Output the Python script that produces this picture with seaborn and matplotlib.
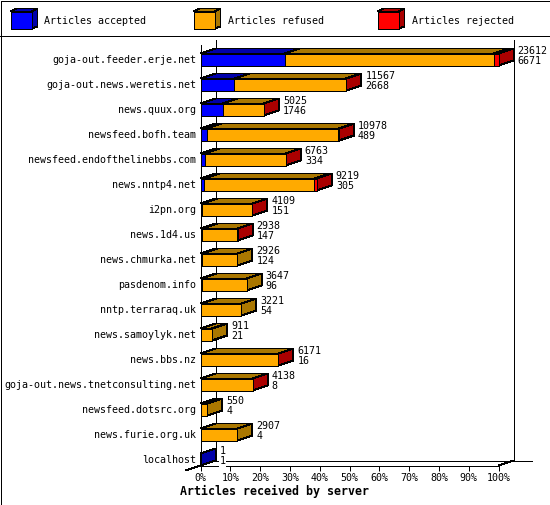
import matplotlib
matplotlib.use("Agg")
import matplotlib.pyplot as plt
import numpy as np
import pandas as pd
import seaborn as sns
from matplotlib.patches import Polygon, Rectangle
from matplotlib.transforms import ScaledTranslation

servers = ["goja-out.feeder.erje.net", "goja-out.news.weretis.net", "news.quux.org",
           "newsfeed.bofh.team", "newsfeed.endofthelinebbs.com", "news.nntp4.net",
           "i2pn.org", "news.1d4.us", "news.chmurka.net", "pasdenom.info",
           "nntp.terraraq.uk", "news.samoylyk.net", "news.bbs.nz",
           "goja-out.news.tnetconsulting.net", "newsfeed.dotsrc.org",
           "news.furie.org.uk", "localhost"]
totals = [23612, 11567, 5025, 10978, 6763, 9219, 4109, 2938, 2926, 3647, 3221, 911, 6171, 4138, 550, 2907, 1]
accepted = [6671, 2668, 1746, 489, 334, 305, 151, 147, 124, 96, 54, 21, 16, 8, 4, 4, 1]
refused = [16581, 8839, 3249, 10429, 6404, 8714, 3938, 2771, 2802, 3551, 3167, 890, 6145, 4115, 546, 2903, 0]
rejected = [360, 60, 30, 60, 25, 200, 20, 20, 0, 0, 0, 0, 10, 15, 0, 0, 0]
legend_names = ["Articles accepted", "Articles refused", "Articles rejected"]
x_ticks = [0, 10, 20, 30, 40, 50, 60, 70, 80, 90, 100]

front = ["#0000ff", "#ffaa00", "#ff0000"]
shade = ["#0000aa", "#aa7700", "#aa0000"]

sns.set_theme(style="white")
plt.rcParams["font.family"] = ["DejaVu Sans Mono"]

W, H = 550, 505
LW = 0.72  # 1 px
FS = 7.2
fig = plt.figure(figsize=(W / 100, H / 100), dpi=100, facecolor="white")

# pixel overlay for the frame, the walls and the legend
bg = fig.add_axes([0, 0, 1, 1], zorder=0)
bg.set_xlim(0, W)
bg.set_ylim(H, 0)
bg.axis("off")


def line(xs, ys):
    bg.plot(xs, ys, color="black", lw=LW, antialiased=False, solid_capstyle="butt")


bg.add_patch(Rectangle((0.5, 0.5), W - 1, H - 1, fc="none", ec="black", lw=LW, antialiased=False))
line([0, W], [35.5, 35.5])
line([215.5, 215.5], [40, 460])
line([513.5, 513.5], [40, 460])
line([215, 532], [460.5, 460.5])
line([498.5, 513.5], [465.5, 460.5])
line([185.5, 200.5], [470.5, 465.5])

for left, name, c1, c2 in zip([10.5, 193.5, 377.5], legend_names, front, shade):
    bg.add_patch(Polygon([[left + 21, 11.5], [left + 27, 8.5], [left + 27, 26.5], [left + 21, 28.5]],
                         fc=c2, ec="black", lw=LW, antialiased=False))
    bg.add_patch(Polygon([[left, 11.5], [left + 6, 8.5], [left + 27, 8.5], [left + 21, 11.5]],
                         fc=c2, ec="black", lw=LW, antialiased=False))
    bg.add_patch(Rectangle((left, 11.5), 21, 17, fc=c1, ec="black", lw=LW, antialiased=False))
    bg.text(left + 34, 20.5, name, fontsize=FS, va="center", ha="left", color="black")

# chart axes: 0-100% is x 200-498 px, rows are 25 px apart
ax = fig.add_axes([200.5 / W, 1 - 465.5 / H, 298 / W, 425 / H], zorder=1)
ax.patch.set_alpha(0)

df = pd.DataFrame({"server": servers, "total": totals, "accepted": accepted,
                   "refused": refused, "rejected": rejected})
scale = 100 / df["total"].max()
df["a"] = df["accepted"] * scale
df["b"] = (df["accepted"] + df["refused"]) * scale
df["c"] = (df["accepted"] + df["refused"] + df["rejected"]) * scale

half = 0.24
dx = 15 / 298 * 100
dy = 5 / 25

# top and side faces first
for i, row in df.iterrows():
    edges = [0, row["a"], row["b"], row["c"]]
    for k in range(3):
        if edges[k + 1] > edges[k]:
            x0, x1 = edges[k], edges[k + 1]
            ax.add_patch(Polygon([[x0, i - half], [x0 + dx, i - half - dy],
                                  [x1 + dx, i - half - dy], [x1, i - half]],
                                 fc=shade[k], ec="black", lw=LW, antialiased=False,
                                 clip_on=False, zorder=1))
    last = int(np.argmax([row["accepted"] > 0, row["refused"] > 0, row["rejected"] > 0] * np.array([1, 2, 3])))
    ax.add_patch(Polygon([[row["c"], i - half], [row["c"] + dx, i - half - dy],
                          [row["c"] + dx, i + half - dy], [row["c"], i + half]],
                         fc=shade[last], ec="black", lw=LW, antialiased=False,
                         clip_on=False, zorder=1))

# front faces, drawn over each other
for col, c in zip(["c", "b", "a"], [front[2], front[1], front[0]]):
    sns.barplot(data=df, x=col, y="server", order=servers, color=c, saturation=1,
                width=half * 2, edgecolor="black", linewidth=LW, errorbar=None,
                zorder=2, ax=ax)

for p in ax.patches:
    p.set_antialiased(False)
    p.set_clip_on(False)

for i, row in df.iterrows():
    ax.text(row["c"] + dx + 4 / 298 * 100, i - 0.14, f"{row['total']}\n{row['accepted']}",
            fontsize=FS, va="center", ha="left", linespacing=1.1, color="black",
            zorder=3, bbox=dict(fc="white", ec="none", pad=0.5))

ax.set_xlim(0, 100)
ax.set_ylim((465.5 - 59.5) / 25, (40.5 - 59.5) / 25)
ax.set_xticks(x_ticks)
ax.set_xticklabels([f"{t}%" for t in x_ticks], fontsize=FS)
ax.tick_params(axis="x", bottom=True, length=3.6, width=LW, color="black", pad=1.5, labelcolor="black")
ax.tick_params(axis="y", left=False, length=0, pad=2.9, labelsize=FS, labelcolor="black")
ax.set_ylabel("")
ax.set_xlabel("Articles received by server", fontsize=8.4, fontweight="bold", color="black")
ax.xaxis.set_label_coords((273.5 - 200) / 298, -26 / 425)
ax.xaxis.label.set_va("center")

# row labels sit one pixel above the bar centre
up = ScaledTranslation(0, 1 / 100, fig.dpi_scale_trans)
for t in ax.get_yticklabels():
    t.set_transform(t.get_transform() + up)

sns.despine(ax=ax, top=True, right=True)
for side in ["left", "bottom"]:
    ax.spines[side].set_linewidth(LW)
    ax.spines[side].set_color("black")
    ax.spines[side].set_antialiased(False)
ax.spines["left"].set_bounds((465.5 - 59.5) / 25, (45 - 59.5) / 25)

fig.savefig("out.png", dpi=100)
